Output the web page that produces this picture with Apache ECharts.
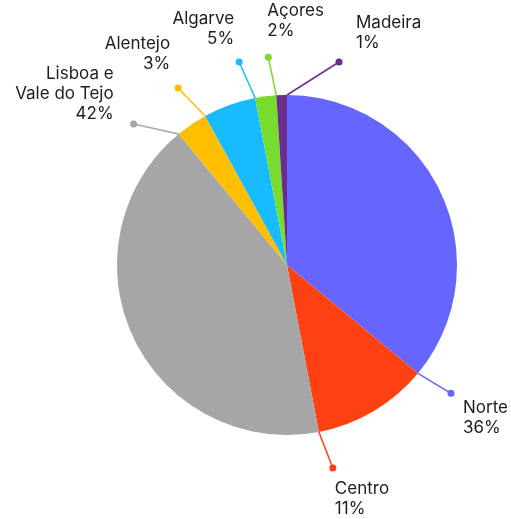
<!DOCTYPE html>
<html>
<head>
<meta charset="utf-8">
<script src="https://cdn.jsdelivr.net/npm/echarts@6/dist/echarts.min.js"></script>
<style>
  html, body { margin: 0; padding: 0; background: #ffffff; }
  #chart { width: 511px; height: 519px; }
</style>
</head>
<body>
<div id="chart"></div>
<script>
// Share of each region (percent)
const regions = ['Norte', 'Centro', 'Lisboa e\nVale do Tejo', 'Alentejo', 'Algarve', 'Açores', 'Madeira'];
const shares = [36, 11, 42, 3, 5, 2, 1];
const colors = ['#6666ff', '#ff4012', '#a6a6a6', '#ffbe00', '#18bbff', '#78dc2e', '#6b2c8b'];

// Callout styling: the leader line leaves the rim at the slice's closing edge,
// runs outward by (dx, dy) and ends in a dot; the label sits at (lx, ly) from that dot.
const callouts = [
  { dx: 33, dy: 20, lx: 12, ly: 5, align: 'left', va: 'top' },
  { dx: 14, dy: 36, lx: 2, ly: 11, align: 'left', va: 'top' },
  { dx: -45, dy: -10, lx: -20, ly: 0, align: 'right', va: 'bottom' },
  { dx: -27, dy: -28, lx: -8, ly: -14, align: 'right', va: 'bottom' },
  { dx: -16, dy: -36, lx: -5, ly: -13, align: 'right', va: 'bottom' },
  { dx: -8, dy: -38, lx: -1, ly: -16, align: 'left', va: 'bottom' },
  { dx: 52, dy: -33, lx: 17, ly: -9, align: 'left', va: 'bottom' }
];

const chart = echarts.init(document.getElementById('chart'), null, { renderer: 'canvas' });

function calloutGeometry(i) {
  const data = chart.getModel().getSeriesByIndex(0).getData();
  const lay = data.getItemLayout(i);
  const a = lay.endAngle;
  const sx = lay.cx + lay.r * Math.cos(a);
  const sy = lay.cy + lay.r * Math.sin(a);
  const c = callouts[i];
  return { start: [sx, sy], end: [sx + c.dx, sy + c.dy] };
}

const option = {
  animation: false,
  backgroundColor: '#ffffff',
  series: [{
    type: 'pie',
    center: [287, 265],
    radius: 170,
    startAngle: 90,
    clockwise: true,
    avoidLabelOverlap: false,
    percentPrecision: 0,
    itemStyle: { borderWidth: 0 },
    emphasis: { disabled: true },
    label: {
      show: true,
      position: 'outside',
      formatter: '{b}\n{d}%',
      fontFamily: 'Inter',
      fontSize: 17,
      lineHeight: 20,
      color: '#1d1d1f'
    },
    labelLine: { show: true, length: 20, length2: 10, lineStyle: { width: 1.5 } },
    labelLayout: function (params) {
      const i = params.dataIndex;
      const g = calloutGeometry(i);
      const c = callouts[i];
      return {
        x: g.end[0] + c.lx,
        y: g.end[1] + c.ly,
        align: c.align,
        verticalAlign: c.va,
        labelLinePoints: [g.start, [(g.start[0] + g.end[0]) / 2, (g.start[1] + g.end[1]) / 2], g.end]
      };
    },
    data: regions.map((name, i) => ({
      name: name,
      value: shares[i],
      itemStyle: { color: colors[i] },
      labelLine: { lineStyle: { color: colors[i] } }
    }))
  }]
};

chart.setOption(option);

// Dots at the outer end of each leader line
const dots = shares.map((v, i) => {
  const g = calloutGeometry(i);
  return {
    type: 'circle',
    shape: { cx: g.end[0], cy: g.end[1], r: 3.5 },
    style: { fill: colors[i] },
    z: 100,
    silent: true
  };
});
chart.setOption({ graphic: { elements: dots } });
</script>
</body>
</html>
